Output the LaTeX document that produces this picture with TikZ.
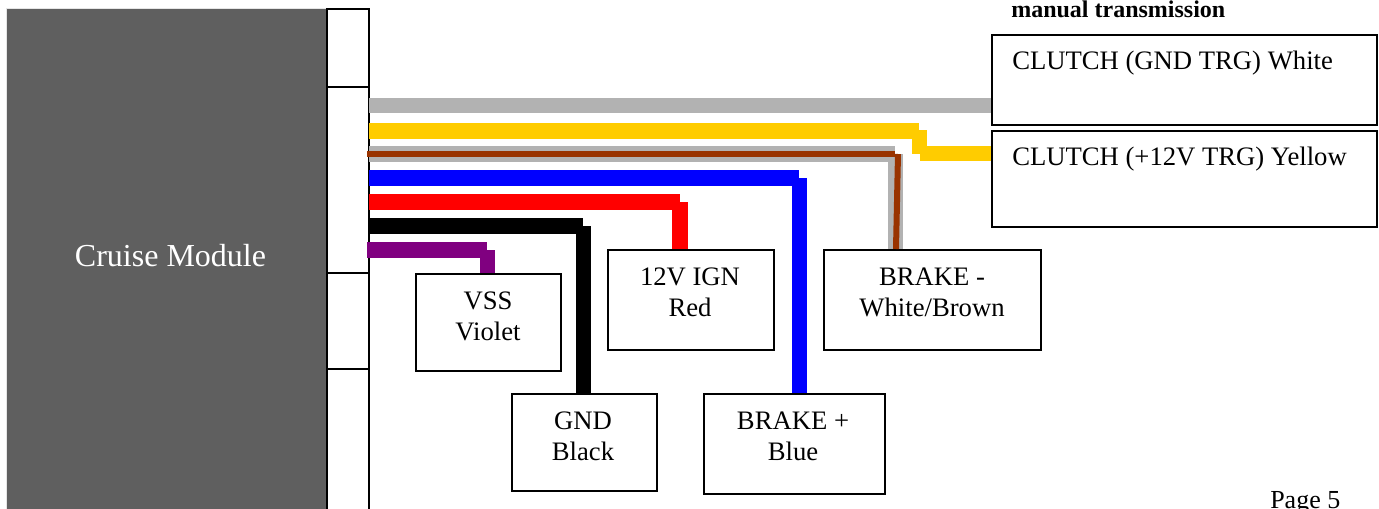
\documentclass[tikz,border=0pt]{standalone}
\usepackage{fontspec}
\setmainfont{Liberation Serif}
\tikzset{
  x=0.75pt,y=-0.75pt,
  box/.style={draw=black,line width=1.5pt,fill=white,rectangle,anchor=north west,inner sep=0pt},
  txt/.style={font=\fontsize{20}{23.25}\selectfont,align=center,inner sep=0pt,text=black},
  wire/.style={line width=11.6pt,line cap=butt},
  thin wire/.style={line width=4.5pt,line cap=butt},
}
\definecolor{modgray}{HTML}{5F5F5F}
\definecolor{wgray}{HTML}{B2B2B2}
\definecolor{wyellow}{HTML}{FFCC00}
\definecolor{wbrown}{HTML}{993300}
\definecolor{wviolet}{HTML}{800080}
\newcommand{\boxat}[5]{\node[box,minimum width=#4*0.75pt,minimum height=#5*0.75pt] (#1) at (#2,#3) {};}
\begin{document}
\begin{tikzpicture}
\useasboundingbox (0,0) rectangle (1379,508);
% module
\fill[modgray] (7,9) rectangle (327,520);
\draw[white!80!gray,line width=1pt] (6.5,520) -- (6.5,8.5) -- (327,8.5);
\node[txt,text=white,font=\fontsize{24}{28}\selectfont] (cruise) at (170.5,256) {Cruise Module};
% connector strip
\draw[black,line width=1.5pt] (327,520) -- (327,9) -- (369,9) -- (369,520);
\draw[black,line width=1.5pt] (327,87) -- (369,87) (327,273) -- (369,273) (327,369) -- (369,369);
% boxes
\boxat{vss}{415}{273}{145}{97}
\boxat{ign}{607}{249}{166}{100}
\boxat{brkm}{823}{249}{217}{100}
\boxat{gnd}{511}{393}{145}{97}
\boxat{brkp}{703}{393}{181}{100}
\boxat{clw}{991}{34}{385}{90}
\boxat{cly}{991}{130}{385}{96}
% coordinates
\coordinate (a1) at (369,105.5);
\coordinate (a2) at (369,131);
\coordinate (a3) at (369,154);
\coordinate (a3b) at (367,153.5);
\coordinate (a4) at (369,178);
\coordinate (a5) at (369,202);
\coordinate (a6) at (368,226);
\coordinate (a7) at (367,250);
% wires
\draw[wire,wgray] (a1) -- (a1 -| clw.west);
\draw[wire,wyellow] (a2) -- (919,131);
\draw[wire,wyellow] (919.5,130) -- (919.5,153.5);
\draw[wire,wyellow] (920,153.5) -- (cly.west |- 920,153.5);
\draw[wire,wgray] (a3) -- (895,154);
\draw[wire,wgray] (895.5,154) -- (895.5,249);
\draw[thin wire,wbrown] (a3b) -- (895,153.5);
\draw[thin wire,wbrown] (898,154) -- (896,249);
\draw[wire,blue] (a4) -- (799,178);
\draw[wire,blue] (799.5,178) -- (799.5,393);
\draw[wire,red] (a5) -- (680,202);
\draw[wire,red] (680,202) -- (680,249);
\draw[wire,black] (a6) -- (583,226);
\draw[wire,black] (583.5,226) -- (583.5,393);
\draw[wire,wviolet] (a7) -- (487,250);
\draw[wire,wviolet] (487.5,250) -- (487.5,273);
% labels
\node[txt] (tvss) at (488,316.5) {VSS\\Violet};
\node[txt] (tign) at (690,292.5) {12V IGN\\Red};
\node[txt] (tbrkm) at (932,292.5) {BRAKE -\\White/Brown};
\node[txt] (tgnd) at (583,436.5) {GND\\Black};
\node[txt] (tbrkp) at (793,436.5) {BRAKE +\\Blue};
\node[txt,anchor=base west] (tclw) at (1012,69) {CLUTCH (GND TRG) White};
\node[txt,anchor=base west] (tcly) at (1012,165) {CLUTCH (+12V TRG) Yellow};
\node[anchor=base west,inner sep=0pt,font=\bfseries\fontsize{18}{20}\selectfont] (man) at (1011,17) {manual transmission};
\node[anchor=base west,inner sep=0pt,font=\fontsize{19.5}{23}\selectfont] (page) at (1270,508) {Page 5};
\end{tikzpicture}
\end{document}
